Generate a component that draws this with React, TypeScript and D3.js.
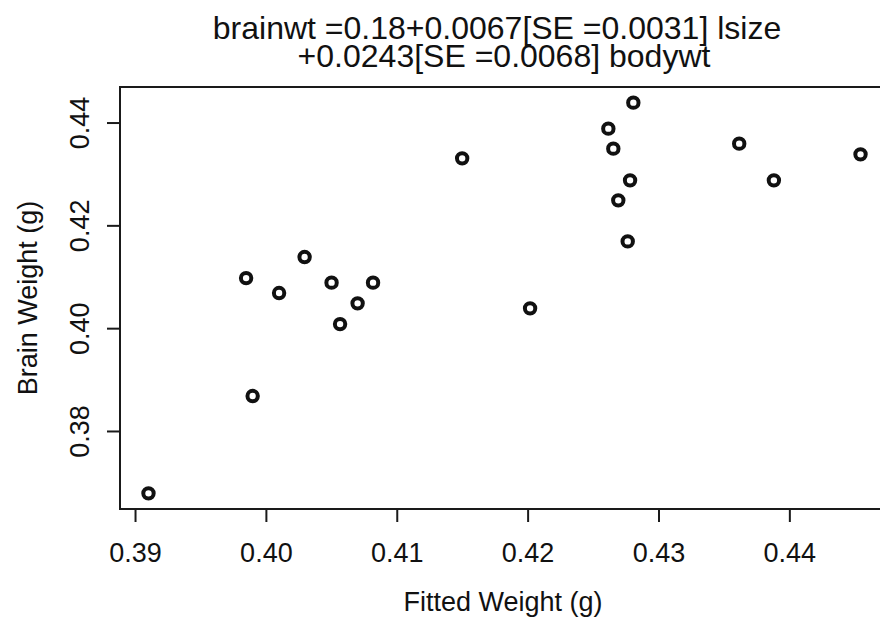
import React from "react";
import * as d3 from "d3";

const fittedWeight = [
  0.39099, 0.39845, 0.39895, 0.40097, 0.40292, 0.40498, 0.40563, 0.40697, 0.40815, 0.41496,
  0.42015, 0.42613, 0.42651, 0.42689, 0.42761, 0.42779, 0.42804, 0.43613, 0.43878, 0.4454,
];
const brainWeight = [
  0.36796, 0.40984, 0.38689, 0.40693, 0.41393, 0.40895, 0.40089, 0.40492, 0.40895, 0.43313,
  0.40395, 0.43891, 0.43502, 0.42496, 0.41698, 0.42885, 0.44397, 0.43599, 0.42885, 0.43391,
];
const xTicks = [0.39, 0.4, 0.41, 0.42, 0.43, 0.44];
const xTickLabels = ["0.39", "0.40", "0.41", "0.42", "0.43", "0.44"];
const yTicks = [0.38, 0.4, 0.42, 0.44];
const yTickLabels = ["0.38", "0.40", "0.42", "0.44"];
const titleLines = ["brainwt =0.18+0.0067[SE =0.0031] lsize", "+0.0243[SE =0.0068] bodywt"];
const xLabel = "Fitted Weight (g)";
const yLabel = "Brain Weight (g)";

const W = 880;
const H = 623;
const left = 120;
const right = 889;
const top = 87;
const bottom = 509;
const font = "'Liberation Sans', Arial, Helvetica, sans-serif";

function padded(values: number[]): [number, number] {
  const [lo, hi] = d3.extent(values) as [number, number];
  const p = (hi - lo) * 0.04;
  return [lo - p, hi + p];
}

export default function App() {
  const x = d3.scaleLinear().domain(padded(fittedWeight)).range([left, right]);
  const y = d3.scaleLinear().domain(padded(brainWeight)).range([bottom, top]);
  const ink = "#1a1a1a";
  const tickLen = 13;
  return (
    <svg
      width={W}
      height={H}
      style={{ position: "absolute", left: 0, top: 0, background: "#fff" }}
      fontFamily={font}
    >
      <rect x={0} y={0} width={W} height={H} fill="#fff" />
      {/* title */}
      <text x={497} y={39} fontSize={32} textAnchor="middle" fill="#111">
        {titleLines[0]}
      </text>
      <text x={504} y={67} fontSize={32} textAnchor="middle" fill="#111">
        {titleLines[1]}
      </text>
      {/* box */}
      <rect
        x={left}
        y={top}
        width={right - left}
        height={bottom - top}
        fill="none"
        stroke={ink}
        strokeWidth={2}
      />
      {/* x axis */}
      <line
        x1={x(xTicks[0])}
        x2={x(xTicks[xTicks.length - 1])}
        y1={bottom}
        y2={bottom}
        stroke={ink}
        strokeWidth={2}
      />
      {xTicks.map((t, i) => (
        <g key={"xt" + i}>
          <line x1={x(t)} x2={x(t)} y1={bottom} y2={bottom + tickLen} stroke={ink} strokeWidth={2} />
          <text x={x(t)} y={562} fontSize={27} textAnchor="middle" fill="#111">
            {xTickLabels[i]}
          </text>
        </g>
      ))}
      {/* y axis */}
      <line
        x1={left}
        x2={left}
        y1={y(yTicks[0])}
        y2={y(yTicks[yTicks.length - 1])}
        stroke={ink}
        strokeWidth={2}
      />
      {yTicks.map((t, i) => (
        <g key={"yt" + i}>
          <line x1={left} x2={left - tickLen} y1={y(t)} y2={y(t)} stroke={ink} strokeWidth={2} />
          <text
            transform={`translate(89,${y(t)}) rotate(-90)`}
            fontSize={27}
            textAnchor="middle"
            fill="#111"
          >
            {yTickLabels[i]}
          </text>
        </g>
      ))}
      {/* axis titles */}
      <text x={503} y={611} fontSize={27} textAnchor="middle" fill="#111">
        {xLabel}
      </text>
      <text
        transform={`translate(37,${(top + bottom) / 2}) rotate(-90)`}
        fontSize={27}
        textAnchor="middle"
        fill="#111"
      >
        {yLabel}
      </text>
      {/* points */}
      {fittedWeight.map((v, i) => (
        <circle
          key={"p" + i}
          cx={x(v)}
          cy={y(brainWeight[i])}
          r={5.2}
          fill="none"
          stroke="#111"
          strokeWidth={4}
        />
      ))}
    </svg>
  );
}
